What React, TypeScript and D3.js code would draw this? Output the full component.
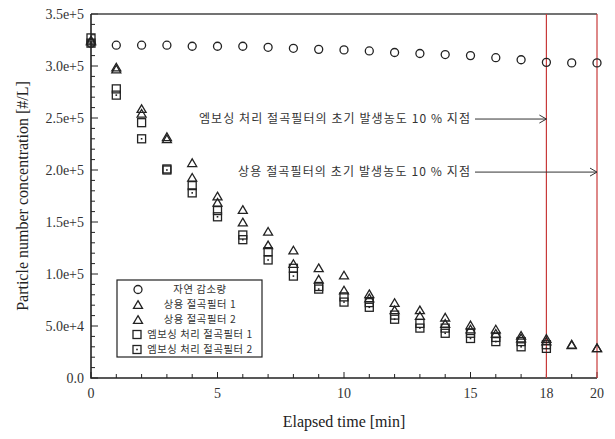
import React from "react";
import * as d3 from "d3";

const time = [0, 1, 2, 3, 4, 5, 6, 7, 8, 9, 10, 11, 12, 13, 14, 15, 16, 17, 18, 19, 20];
const natural = [3.22e5, 3.2e5, 3.2e5, 3.2e5, 3.19e5, 3.19e5, 3.19e5, 3.18e5, 3.17e5, 3.16e5, 3.155e5, 3.145e5, 3.13e5, 3.12e5, 3.11e5, 3.1e5, 3.08e5, 3.06e5, 3.035e5, 3.03e5, 3.03e5];
const commercial1 = [3.25e5, 2.99e5, 2.59e5, 2.32e5, 2.07e5, 1.75e5, 1.62e5, 1.41e5, 1.23e5, 1.06e5, 0.99e5, 0.81e5, 0.725e5, 0.655e5, 0.585e5, 0.51e5, 0.47e5, 0.41e5, 0.38e5, 0.325e5, 0.29e5];
const commercial2 = [3.24e5, 2.97e5, 2.545e5, 2.3e5, 1.93e5, 1.69e5, 1.5e5, 1.28e5, 1.1e5, 0.95e5, 0.845e5, 0.77e5, 0.655e5, 0.6e5, 0.525e5, 0.47e5, 0.43e5, 0.385e5, 0.355e5, 0.32e5, 0.29e5];
const embossed1 = [3.27e5, 2.78e5, 2.455e5, 2.01e5, 1.85e5, 1.61e5, 1.375e5, 1.215e5, 1.055e5, 0.88e5, 0.78e5, 0.725e5, 0.605e5, 0.525e5, 0.48e5, 0.43e5, 0.39e5, 0.35e5, 0.32e5];
const embossed2 = [3.22e5, 2.72e5, 2.3e5, 2.0e5, 1.78e5, 1.55e5, 1.33e5, 1.135e5, 0.98e5, 0.855e5, 0.73e5, 0.68e5, 0.565e5, 0.48e5, 0.43e5, 0.38e5, 0.35e5, 0.3e5, 0.285e5];

const xTickLabels = [0, 5, 10, 15, 18, 20];
const yTickValues = [0, 5e4, 1e5, 1.5e5, 2e5, 2.5e5, 3e5, 3.5e5];
const yTickLabels = ["0.0", "5.0e+4", "1.0e+5", "1.5e+5", "2.0e+5", "2.5e+5", "3.0e+5", "3.5e+5"];
const legendLabels = ["자연 감소량", "상용 절곡필터 1", "상용 절곡필터 2", "엠보싱 처리 절곡필터 1", "엠보싱 처리 절곡필터 2"];
const markerLines = [18, 20];
const annotations = [
  { text: "엠보싱 처리 절곡필터의 초기 발생농도 10 % 지점", level: 2.49e5, target: 18 },
  { text: "상용 절곡필터의 초기 발생농도 10 % 지점", level: 1.98e5, target: 20 },
];

const W = 615, H = 439;
const m = { left: 91, right: 18, top: 14, bottom: 61 };
const serif = "'Liberation Serif', 'Times New Roman', serif";
const kfont = "'Noto Sans CJK KR', 'Noto Sans', sans-serif";
const ink = "#222";
const red = "#c83a3a";

const x = d3.scaleLinear().domain([0, 20]).range([m.left, W - m.right]);
const y = d3.scaleLinear().domain([0, 3.5e5]).range([H - m.bottom, m.top]);

const tri = (cx: number, cy: number, s = 9) => {
  const h = s * 0.85;
  return `M${cx},${cy - h / 2}L${cx + s / 2},${cy + h / 2}L${cx - s / 2},${cy + h / 2}Z`;
};

function Circle({ cx, cy }: { cx: number; cy: number }) {
  return <circle cx={cx} cy={cy} r={4} fill="none" stroke={ink} strokeWidth={1.3} />;
}
function Tri({ cx, cy }: { cx: number; cy: number }) {
  return <path d={tri(cx, cy)} fill="none" stroke={ink} strokeWidth={1.3} strokeLinejoin="miter" />;
}
function Sq({ cx, cy, dot }: { cx: number; cy: number; dot?: boolean }) {
  return (
    <g>
      <rect x={cx - 4} y={cy - 4} width={8} height={8} fill="none" stroke={ink} strokeWidth={1.3} />
      {dot && <rect x={cx - 0.8} y={cy - 0.8} width={1.6} height={1.6} fill={ink} />}
    </g>
  );
}

export default function App() {
  const x0 = x(0), x1 = x(20), yb = y(0), yt = y(3.5e5);
  const xMinor = d3.range(0, 21, 1);
  const yMinor = d3.range(0, 3.5e5 + 1, 1e4);
  const legX = 117, legY = 280, legW = 145, legH = 77;
  const annStart = [199, 238];
  return (
    <div style={{ position: "fixed", left: 0, top: 0 }}>
      <svg width={W} height={H} style={{ display: "block", background: "#fff" }}>
        <rect width={W} height={H} fill="#fff" />
        {/* ticks */}
        {xMinor.map((t) => (
          <line key={"xt" + t} x1={x(t)} x2={x(t)} y1={yb} y2={yb - (t % 5 === 0 ? 6 : 4)} stroke={ink} strokeWidth={1} />
        ))}
        {yMinor.map((t) => (
          <line key={"yt" + t} x1={x0} x2={x0 + (Math.round(t) % 50000 === 0 ? 7 : 4)} y1={y(t)} y2={y(t)} stroke={ink} strokeWidth={1} />
        ))}
        {/* frame */}
        <path d={`M${x0},${yt}L${x1},${yt}`} stroke="#444" strokeWidth={1.6} fill="none" />
        <path d={`M${x0},${yt}L${x0},${yb}L${x1},${yb}`} stroke={ink} strokeWidth={1.6} fill="none" />
        {/* red lines */}
        {markerLines.map((t) => (
          <line key={"r" + t} x1={x(t)} x2={x(t)} y1={yt} y2={yb} stroke={red} strokeWidth={1.2} />
        ))}
        {/* tick labels */}
        {xTickLabels.map((t) => (
          <text key={"xl" + t} x={x(t)} y={yb + 20} textAnchor="middle" fontFamily={serif} fontSize={14} fill="#333">
            {t}
          </text>
        ))}
        {yTickValues.map((t, i) => (
          <text key={"yl" + t} x={x0 - 7} y={y(t) + 5} textAnchor="end" fontFamily={serif} fontSize={14} fill="#333">
            {yTickLabels[i]}
          </text>
        ))}
        {/* axis titles */}
        <text x={(x0 + x1) / 2} y={H - 12} textAnchor="middle" fontFamily={serif} fontSize={16} fill="#222">
          Elapsed time [min]
        </text>
        <text transform={`translate(22,${(yt + yb) / 2}) rotate(-90)`} textAnchor="middle" dominantBaseline="central" fontFamily={serif} fontSize={16} fill="#222">
          Particle number concentration [#/L]
        </text>
        {/* annotations */}
        {annotations.map((a, i) => {
          const ay = y(a.level);
          const tx = x(a.target);
          return (
            <g key={"an" + i}>
              <text x={annStart[i]} y={ay + 4} textLength={470 - annStart[i]} lengthAdjust="spacing" fontFamily={kfont} fontSize={12} fill="#333">
                {a.text}
              </text>
              <line x1={475} x2={tx} y1={ay} y2={ay} stroke="#333" strokeWidth={1} />
              <path d={`M${tx - 7},${ay - 4}L${tx},${ay}L${tx - 7},${ay + 4}`} fill="none" stroke="#333" strokeWidth={1} />
            </g>
          );
        })}
        {/* data */}
        {time.map((t, i) => <Circle key={"n" + i} cx={x(t)} cy={y(natural[i])} />)}
        {time.map((t, i) => <Tri key={"c1" + i} cx={x(t)} cy={y(commercial1[i])} />)}
        {time.map((t, i) => <Tri key={"c2" + i} cx={x(t)} cy={y(commercial2[i])} />)}
        {embossed1.map((v, i) => <Sq key={"e1" + i} cx={x(time[i])} cy={y(v)} />)}
        {embossed2.map((v, i) => <Sq key={"e2" + i} cx={x(time[i])} cy={y(v)} dot />)}
        {/* legend */}
        <rect x={legX} y={legY} width={legW} height={legH} fill="#fff" stroke={ink} strokeWidth={1.2} />
        {legendLabels.map((l, i) => {
          const ry = legY + 9.5 + i * 15;
          return (
            <g key={"lg" + i}>
              {i === 0 && <Circle cx={138} cy={ry} />}
              {(i === 1 || i === 2) && <Tri cx={138} cy={ry} />}
              {i === 3 && <Sq cx={137} cy={ry} />}
              {i === 4 && <Sq cx={137} cy={ry} dot />}
              <text x={200} y={ry + 3.8} textAnchor="middle" fontFamily={kfont} fontSize={10.3} letterSpacing={0.6} fill="#333">
                {l}
              </text>
            </g>
          );
        })}
      </svg>
    </div>
  );
}
